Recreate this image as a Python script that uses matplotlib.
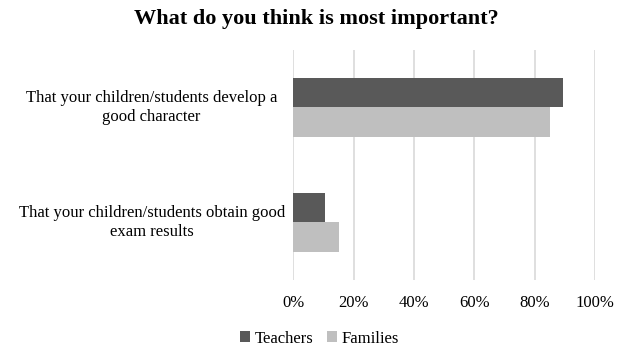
import numpy as np
import matplotlib
matplotlib.use("Agg")
import matplotlib.pyplot as plt
import matplotlib.transforms as mtransforms
from matplotlib.ticker import PercentFormatter

categories = ["That your children/students develop a\ngood character",
              "That your children/students obtain good\nexam results"]
teachers = [89.5, 10.5]
families = [85, 15]
ticks = [0, 20, 40, 60, 80, 100]

plt.rcParams['font.family'] = ['Liberation Serif', 'DejaVu Serif']

fig = plt.figure(figsize=(6.17, 3.46), dpi=100)
ax = fig.add_axes([0.4754, 0.191, 0.4889, 0.6645])

y = np.arange(len(categories))
h = 0.26
ax.barh(y - h / 2, teachers, height=h, color="#595959", label="Teachers", zorder=3)
ax.barh(y + h / 2, families, height=h, color="#bfbfbf", label="Families", zorder=3)

ax.set_xlim(0, 100)
ax.set_ylim(1.5, -0.5)
ax.set_xticks(ticks)
ax.xaxis.set_major_formatter(PercentFormatter(decimals=0))
ax.set_yticks(y)
ax.set_yticklabels(categories, ha="center", fontsize=12)
ax.tick_params(axis="y", length=0, pad=102)
ax.tick_params(axis="x", length=0, pad=11, labelsize=12)
ax.grid(axis="x", color="#d9d9d9", linewidth=1.2, zorder=0)
for s in ax.spines.values():
    s.set_visible(False)

# nudge the category labels up a little
shift = mtransforms.ScaledTranslation(0, 0.03, fig.dpi_scale_trans)
for lbl in ax.get_yticklabels():
    lbl.set_transform(lbl.get_transform() + shift)

fig.text(0.512, 0.945, "What do you think is most important?", fontsize=16,
         fontweight="bold", ha="center", va="center")
fig.legend(loc="lower center", ncol=2, frameon=False, fontsize=12,
           bbox_to_anchor=(0.518, -0.045), handlelength=0.6, handleheight=0.6,
           columnspacing=0.8, handletextpad=0.3)

fig.savefig("out.png", dpi=100)
